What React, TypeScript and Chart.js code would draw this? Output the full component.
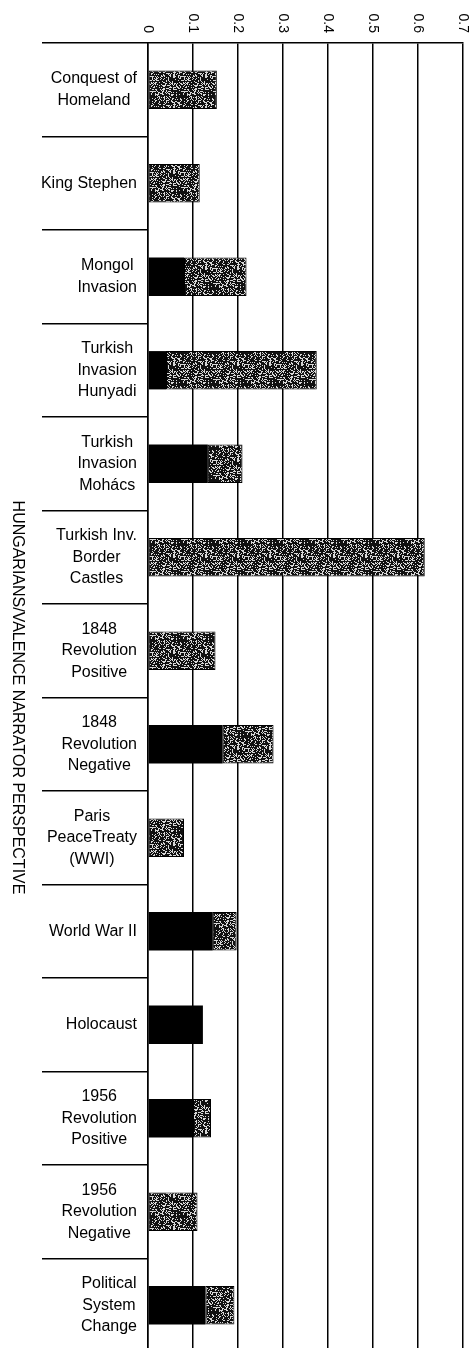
import React, { useEffect, useRef } from "react";
import { Chart, registerables } from "chart.js";

Chart.register(...registerables);

const categories: string[][] = [
  ["Conquest of", "Homeland"],
  ["King Stephen"],
  ["Mongol", "Invasion"],
  ["Turkish", "Invasion", "Hunyadi"],
  ["Turkish", "Invasion", "Mohács"],
  ["Turkish Inv.", "Border", "Castles"],
  ["1848", "Revolution", "Positive"],
  ["1848", "Revolution", "Negative"],
  ["Paris", "PeaceTreaty", "(WWI)"],
  ["World War II"],
  ["Holocaust"],
  ["1956", "Revolution", "Positive"],
  ["1956", "Revolution", "Negative"],
  ["Political", "System", "Change"],
];

const blackValues: number[] = [0, 0, 0.08, 0.04, 0.133, 0, 0, 0.166, 0, 0.144, 0.122, 0.1, 0, 0.128];
const greyValues: number[] = [0.153, 0.115, 0.139, 0.335, 0.077, 0.615, 0.15, 0.113, 0.08, 0.053, 0, 0.04, 0.11, 0.064];

const xTickLabels: string[] = ["0", "0.1", "0.2", "0.3", "0.4", "0.5", "0.6", "0.7"];
const axisTitle = "HUNGARIANS/VALENCE NARRATOR PERSPECTIVE";

const FONT = "'Liberation Sans', Arial, sans-serif";

function makeStipple(): CanvasPattern | string {
  const c = document.createElement("canvas");
  const n = 32;
  c.width = n;
  c.height = n;
  const g = c.getContext("2d");
  if (!g) return "#444";
  g.fillStyle = "#111";
  g.fillRect(0, 0, n, n);
  g.fillStyle = "#d8d8d8";
  for (let y = 0; y < n; y++) {
    for (let x = 0; x < n; x++) {
      let h = Math.imul(x + 1, 374761393) + Math.imul(y + 1, 668265263);
      h = Math.imul(h ^ (h >>> 13), 1274126177);
      h = (h ^ (h >>> 16)) >>> 0;
      if (h % 100 < 28) g.fillRect(x, y, 1, 1);
    }
  }
  const p = g.createPattern(c, "repeat");
  return p || "#444";
}

const labelPlugin = {
  id: "customLabels",
  afterDraw(chart: any) {
    const ctx = chart.ctx;
    const area = chart.chartArea;
    const xs = chart.scales.x;
    const ys = chart.scales.y;
    ctx.save();
    ctx.fillStyle = "#000";

    // x tick labels, rotated clockwise
    ctx.font = `14px ${FONT}`;
    xs.ticks.forEach((t: any, i: number) => {
      const px = xs.getPixelForValue(t.value);
      const label = xTickLabels[i] ?? String(t.label);
      ctx.save();
      ctx.translate(px, area.top - 10);
      ctx.rotate(Math.PI / 2);
      ctx.textAlign = "right";
      ctx.textBaseline = "middle";
      ctx.fillText(label, 0, 0);
      ctx.restore();
    });

    // y category labels, block centred
    ctx.font = `16px ${FONT}`;
    const lineH = 21.5;
    const rightEdge = 137;
    ys.ticks.forEach((_t: any, i: number) => {
      const lines = categories[i];
      const py = ys.getPixelForTick(i);
      let maxW = 0;
      lines.forEach((l) => {
        maxW = Math.max(maxW, ctx.measureText(l).width);
      });
      const cx = rightEdge - maxW / 2;
      ctx.textAlign = "center";
      ctx.textBaseline = "middle";
      const startY = py - ((lines.length - 1) * lineH) / 2;
      lines.forEach((l, k) => {
        ctx.fillText(l, cx, startY + k * lineH);
      });
    });

    // axis title, rotated clockwise
    ctx.font = `16px ${FONT}`;
    ctx.save();
    ctx.translate(17.5, (area.top + area.bottom) / 2);
    ctx.rotate(Math.PI / 2);
    ctx.textAlign = "center";
    ctx.textBaseline = "middle";
    ctx.fillText(axisTitle, 0, 0);
    ctx.restore();

    ctx.restore();
  },
};

export default function App() {
  const ref = useRef<HTMLCanvasElement | null>(null);

  useEffect(() => {
    if (!ref.current) return;
    const stipple = makeStipple();
    const chart = new Chart(ref.current, {
      type: "bar",
      data: {
        labels: categories,
        datasets: [
          {
            label: "black",
            data: blackValues,
            backgroundColor: "#000",
            borderWidth: 0,
            categoryPercentage: 1,
            barPercentage: 0.41,
          },
          {
            label: "stippled",
            data: greyValues,
            backgroundColor: stipple as any,
            borderColor: "#000",
            borderWidth: 1,
            borderSkipped: false,
            categoryPercentage: 1,
            barPercentage: 0.41,
          },
        ],
      },
      options: {
        indexAxis: "y",
        animation: false,
        responsive: true,
        maintainAspectRatio: false,
        layout: { padding: { left: 42, top: 43, right: 11, bottom: 8 } },
        plugins: {
          legend: { display: false },
          tooltip: { enabled: false },
          title: { display: false },
        },
        scales: {
          x: {
            position: "top",
            stacked: true,
            min: 0,
            max: 0.7,
            ticks: { display: false, stepSize: 0.1 },
            grid: { color: "#000", lineWidth: 1.5, drawTicks: false },
            border: { display: true, color: "#000", width: 1.5 },
          },
          y: {
            stacked: true,
            ticks: { display: false },
            grid: {
              offset: true,
              color: "#000",
              lineWidth: 1.5,
              drawOnChartArea: false,
              drawTicks: true,
              tickLength: 106,
              tickColor: "#000",
              tickWidth: 1.5,
            },
            border: { display: true, color: "#000", width: 1.5 },
          },
        },
      },
      plugins: [labelPlugin],
    });
    return () => chart.destroy();
  }, []);

  return (
    <div style={{ position: "absolute", left: 0, top: 0, width: 474, height: 1360, background: "#fff" }}>
      <canvas ref={ref} />
    </div>
  );
}
